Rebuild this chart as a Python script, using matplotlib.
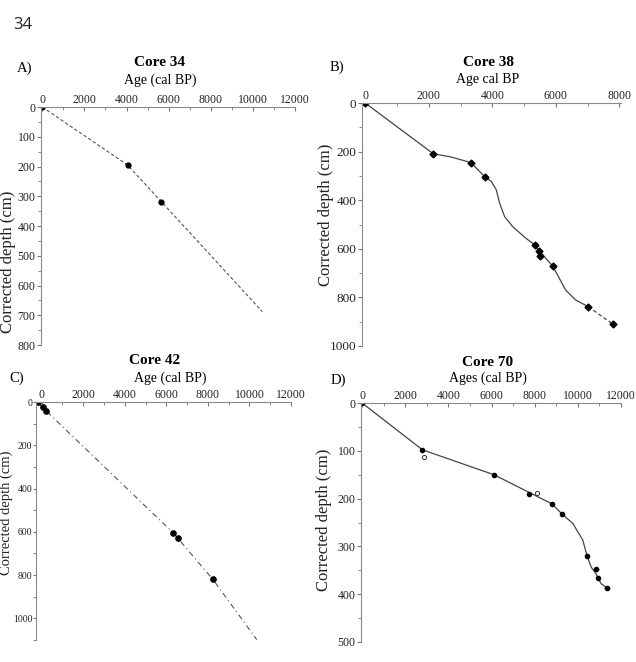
import matplotlib
matplotlib.use('Agg')
import matplotlib.pyplot as plt
from matplotlib.ticker import MultipleLocator

plt.rcParams['font.family'] = ['Liberation Serif', 'DejaVu Serif']

W, H = 636, 662

# Core 34
a_ages = [0, 4050, 5650]
a_depths = [0, 195, 318]
a_model_ages = [0, 4050, 5650, 10450]
a_model_depths = [0, 195, 318, 688]

# Core 38
b_ages = [0, 2145, 3320, 3780, 5350, 5480, 5510, 5900, 7020, 7790]
b_depths = [0, 209, 245, 305, 585, 609, 628, 671, 838, 910]
b_model_ages = [0, 2145, 2700, 3320, 3780, 3970, 4125, 4230, 4385, 4645,
                5060, 5350, 5480, 5900, 6310, 6625, 7020]
b_model_depths = [0, 209, 222, 245, 305, 323, 357, 412, 467, 509,
                  557, 585, 609, 671, 770, 811, 838]
b_tail_ages = [7020, 7790]
b_tail_depths = [838, 910]

# Core 42
c_ages = [-200, 50, 200, 6320, 6560, 8240]
c_depths = [0, 25, 40, 604, 627, 820]
c_model_ages = [-200, 200, 6320, 8240, 10350]
c_model_depths = [0, 40, 604, 820, 1098]

# Core 70
d_ages = [0, 2800, 6110, 7740, 8800, 9260, 10430, 10850, 10920, 11340]
d_depths = [0, 98, 150, 191, 211, 232, 320, 348, 366, 388]
d_err_ages = [10850, 11340]
d_err_depths = [348, 388]
d_err = [130, 130]
d_open_ages = [2860, 8120]
d_open_depths = [113, 188]
d_model_ages = [0, 2800, 6110, 7740, 8800, 9260, 9770, 10230, 10430, 10615,
                10850, 11077, 11460]
d_model_depths = [0, 98, 150, 187, 211, 232, 252, 287, 320, 343,
                  358, 378, 390]


def make_axes(fig, left, right, top, bottom, xsize=8.5, ysize=8.5):
    ax = fig.add_axes([left / W, 1 - bottom / H, (right - left) / W, (bottom - top) / H])
    ax.spines['right'].set_visible(False)
    ax.spines['bottom'].set_visible(False)
    for s in ('left', 'top'):
        ax.spines[s].set_color('#8a8a8a')
        ax.spines[s].set_linewidth(0.8)
    ax.xaxis.tick_top()
    ax.tick_params(axis='x', which='both', direction='in', colors='#777777',
                   labelcolor='#222222', labelsize=xsize, pad=1)
    ax.tick_params(axis='y', which='both', direction='out', colors='#777777',
                   labelcolor='#222222', labelsize=ysize, pad=1)
    ax.tick_params(which='major', length=3)
    ax.tick_params(which='minor', length=2)
    ax.xaxis.set_major_locator(MultipleLocator(2000))
    ax.xaxis.set_minor_locator(MultipleLocator(1000))
    return ax


def label(fig, x, y, s, **kw):
    fig.text(x / W, 1 - y / H, s, ha='center', va='center', **kw)


def depth_label(fig, x, y, size=12):
    label(fig, x, y, 'Corrected depth (cm)', rotation=90, fontsize=size, color='#222222')


fig = plt.figure(figsize=(W / 100, H / 100), dpi=100)
fig.patch.set_facecolor('white')
fig.text(13 / W, 1 - 25 / H, '34', ha='left', va='center', fontsize=12,
         family='Open Sans', color='#222222')

# A) Core 34
ax = make_axes(fig, 41, 295, 107, 345, ysize=8.5)
ax.plot(a_model_ages, a_model_depths, color='#555555', lw=0.8, ls=(0, (3, 2)))
ax.plot(a_ages, a_depths, 'o', color='black', ms=3.5)
ax.set_xlim(-60, 12000)
ax.set_ylim(800, 0)
ax.set_yticks(range(0, 801, 100))
ax.yaxis.set_minor_locator(MultipleLocator(50))
depth_label(fig, 8, 262)
label(fig, 25, 68, 'A)', fontsize=10.5)
label(fig, 160, 63, 'Core 34', fontsize=11, weight='bold')
label(fig, 160, 80, 'Age (cal BP)', fontsize=10)

# B) Core 38
ax = make_axes(fig, 362, 621, 103, 346, ysize=9.5)
ax.plot(b_model_ages, b_model_depths, color='#444444', lw=0.9)
ax.plot(b_tail_ages, b_tail_depths, color='#444444', lw=0.9, ls=(0, (3, 2)))
ax.plot(b_ages, b_depths, 'D', color='black', ms=3.5)
ax.set_xlim(-100, 8050)
ax.set_ylim(1000, 0)
ax.set_yticks(range(0, 1001, 200))
ax.yaxis.set_minor_locator(MultipleLocator(100))
depth_label(fig, 326, 215)
label(fig, 337, 67, 'B)', fontsize=10.5)
label(fig, 488, 63, 'Core 38', fontsize=11, weight='bold')
label(fig, 488, 79, 'Age cal BP', fontsize=10)

# C) Core 42
ax = make_axes(fig, 36, 291, 402, 640, ysize=7)
ax.tick_params(axis='y', which='major', length=2, pad=0.5)
ax.plot(c_model_ages, c_model_depths, color='#555555', lw=0.8, ls=(0, (5, 3, 1, 3)))
ax.plot(c_ages, c_depths, 'o', color='black', ms=3.8)
ax.set_xlim(-275, 12000)
ax.set_ylim(1100, 0)
ax.set_yticks(range(0, 1001, 200))
ax.yaxis.set_minor_locator(MultipleLocator(100))
depth_label(fig, 6.5, 513, size=10.5)
label(fig, 17, 378, 'C)', fontsize=10.5)
label(fig, 155, 361, 'Core 42', fontsize=11, weight='bold')
label(fig, 170, 378, 'Age (cal BP)', fontsize=10)

# D) Core 70
ax = make_axes(fig, 361, 621, 403, 642, ysize=8.5)
ax.plot(d_model_ages, d_model_depths, color='#444444', lw=0.9)
ax.errorbar(d_err_ages, d_err_depths, xerr=d_err, fmt='none', ecolor='#444444',
            elinewidth=0.7)
ax.plot(d_ages, d_depths, 'o', color='black', ms=3)
ax.plot(d_open_ages, d_open_depths, 'o', mfc='white', mec='#333333', mew=0.7, ms=3)
ax.set_xlim(-50, 12000)
ax.set_ylim(500, 0)
ax.set_yticks(range(0, 501, 100))
ax.yaxis.set_minor_locator(MultipleLocator(50))
depth_label(fig, 324, 520)
label(fig, 338, 380, 'D)', fontsize=10.5)
label(fig, 488, 362, 'Core 70', fontsize=11, weight='bold')
label(fig, 488, 378, 'Ages (cal BP)', fontsize=10)

fig.savefig('out.png', dpi=100, facecolor='white')
